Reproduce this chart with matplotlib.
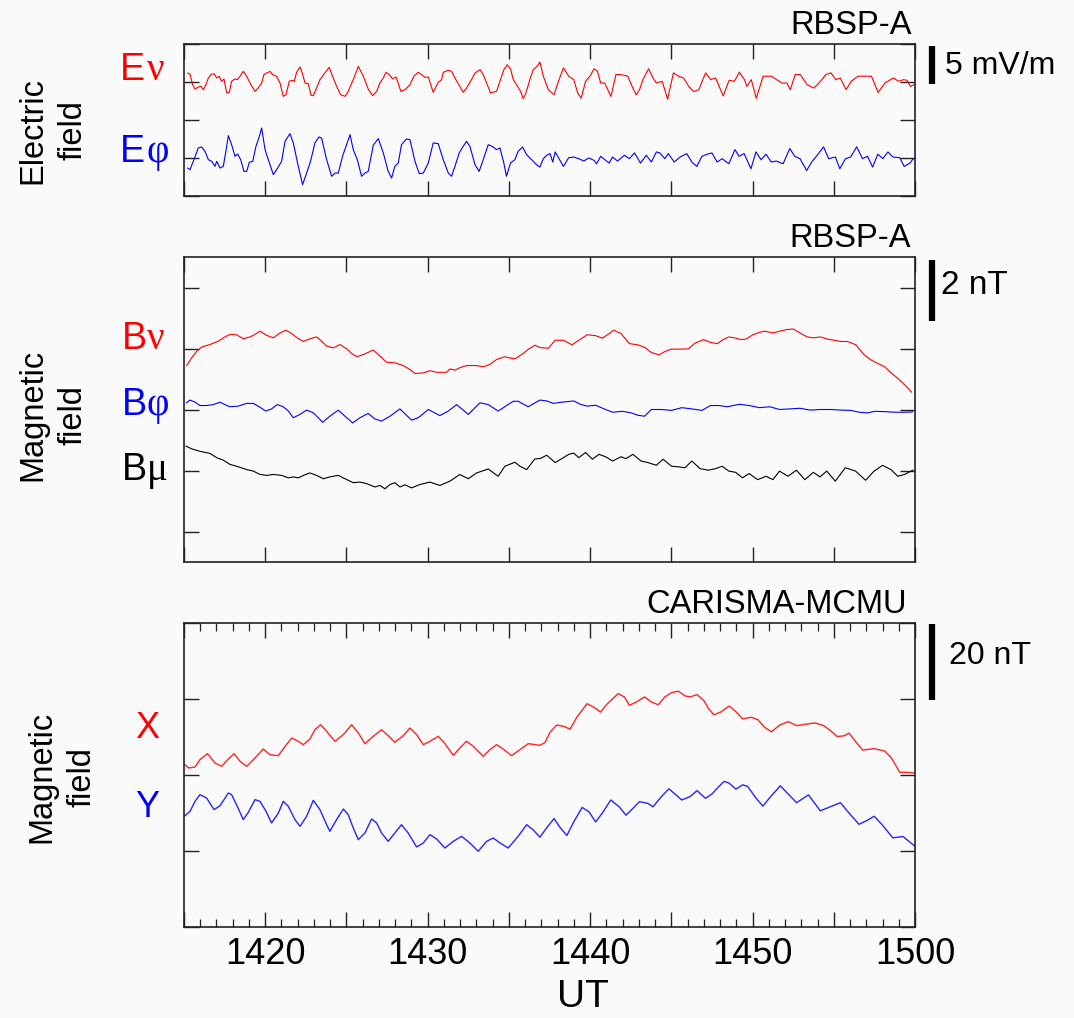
import matplotlib
matplotlib.use("Agg")
import matplotlib.pyplot as plt
import matplotlib.transforms as mtransforms

# ---------------- data (time in minutes after 14:15 UT) ----------------
tick_minutes = [5, 15, 25, 35, 45]
tick_labels = ["1420", "1430", "1440", "1450", "1500"]

# Electric field, RBSP-A (mV/m, deviation from trace baseline)
ev_t = [0.23,0.37,0.53,0.68,0.88,1.05,1.19,1.35,1.50,1.70,1.87,2.01,2.17,2.32,2.46,2.63,2.79,2.93,3.14,3.28,3.45,3.65,3.86,4.06,4.37,4.57,4.78,4.92,5.09,5.29,5.46,5.70,5.91,6.11,6.28,6.48,6.63,6.79,6.93,7.14,7.28,7.45,7.65,7.82,7.96,8.16,8.37,8.62,8.94,9.19,9.44,9.64,9.91,10.11,10.42,10.73,11.04,11.34,11.61,11.86,12.06,12.27,12.43,12.64,12.84,13.05,13.35,13.60,13.91,14.15,14.42,14.63,14.83,15.04,15.34,15.65,15.86,15.96,16.27,16.47,16.68,16.98,17.19,17.39,17.70,17.91,18.22,18.42,18.63,18.87,19.04,19.24,19.45,19.69,19.90,20.10,20.27,20.47,20.72,20.88,21.05,21.29,21.50,21.74,21.91,
        22.12,22.43,22.78,23.05,23.36,23.68,23.99,24.24,24.45,24.72,24.99,25.24,25.45,25.65,25.90,26.28,26.59,26.90,27.32,27.63,27.84,28.04,28.25,28.60,28.87,29.08,29.44,29.77,30.13,30.44,30.75,31.07,31.38,31.69,32.11,32.42,32.73,32.90,33.19,33.56,33.88,34.19,34.50,34.65,34.92,35.23,35.65,36.17,36.48,36.80,37.11,37.32,37.63,37.94,38.36,38.78,39.09,39.51,39.82,40.13,40.40,40.76,41.07,41.49,41.90,42.32,42.73,43.15,43.67,43.99,44.30,44.51,44.72,44.93]
ev_v = [1.18,1.05,-0.35,-0.92,-0.66,-0.57,-1.01,-0.35,0.53,1.05,1.05,0.53,0.75,0.09,0.40,-1.45,-1.36,0.09,0.40,0.31,0.75,1.40,0.75,-0.13,-1.23,-0.79,-0.13,0.97,1.18,1.40,0.97,0.75,-0.13,-1.89,-1.67,0.09,0.22,0.09,1.27,1.98,1.18,-0.13,-0.22,-1.76,-1.80,-0.79,0.31,1.05,1.93,0.53,-0.79,-1.67,-1.89,-1.23,0.31,2.06,0.75,-0.92,-1.80,-1.23,-0.13,0.53,1.27,0.97,0.40,0.66,-1.23,-1.01,-0.35,0.75,1.27,0.97,0.61,0.66,-1.36,-0.04,0.31,1.27,1.54,1.40,0.53,-0.57,-1.36,-0.79,0.31,1.18,1.62,0.97,-0.13,-1.45,-1.32,-1.23,0.09,1.62,2.28,1.71,0.31,-0.35,-1.23,-2.19,-1.45,0.31,1.62,2.06,2.63,
        0.76,-1.02,-1.69,0.09,1.87,0.76,0.31,-1.47,-2.14,0.09,0.76,1.74,1.42,-0.13,-0.13,-1.91,0.98,0.98,0.76,-0.80,-1.69,-1.02,0.31,1.74,0.53,-0.13,0.09,-2.27,1.20,0.76,0.53,-0.58,-1.25,-1.02,1.20,0.31,0.53,-0.36,-1.82,0.22,0.09,1.29,0.31,-0.58,0.31,-2.14,0.76,0.76,0.31,-0.13,-0.13,-1.02,0.98,0.98,-0.36,-0.80,-0.13,0.98,1.20,0.31,0.53,-1.02,0.09,0.76,0.76,0.76,-1.38,-0.13,0.53,0.09,0.31,0.22,-0.58,-0.36]

ephi_t = [0.23,0.37,0.57,0.88,1.09,1.29,1.50,1.70,1.91,2.01,2.22,2.42,2.58,2.73,2.93,3.14,3.30,3.49,3.69,3.86,4.02,4.23,4.43,4.64,4.78,4.99,5.19,5.50,5.70,6.01,6.22,6.52,6.73,6.99,7.30,7.55,7.79,8.06,8.31,8.47,8.78,9.09,9.29,9.50,9.76,9.97,10.22,10.42,10.67,10.93,11.14,11.34,11.65,11.96,12.27,12.57,12.78,12.98,13.19,13.39,13.70,13.91,14.22,14.48,14.73,15.04,15.34,15.65,15.96,16.27,16.47,16.68,16.94,17.19,17.39,17.60,17.91,18.17,18.42,18.73,19.04,19.24,19.45,19.69,19.85,20.10,20.37,20.57,20.84,21.09,21.40,21.70,
          21.91,22.12,22.33,22.53,22.70,22.85,23.05,23.36,23.68,23.99,24.30,24.61,24.92,25.24,25.40,25.65,25.96,26.17,26.38,26.69,27.11,27.42,27.73,28.10,28.46,28.77,29.08,29.29,29.60,29.81,30.18,30.54,30.95,31.26,31.57,31.88,32.19,32.50,32.82,33.13,33.54,33.92,34.17,34.48,34.90,35.21,35.52,35.83,36.15,36.46,36.88,37.29,37.60,37.92,38.33,38.64,39.06,39.37,39.68,40.10,40.37,40.72,41.04,41.41,41.77,42.08,42.39,42.71,43.02,43.33,43.64,44.06,44.33,44.69,44.89]
ephi_v = [-1.32,-1.54,-0.44,1.32,1.45,0.88,-0.22,-0.44,-1.10,-0.44,-1.32,-1.10,0.88,2.94,1.76,0.22,0.53,-0.22,-1.76,-1.76,-0.57,-0.44,1.54,2.85,3.95,1.10,-0.22,-2.19,-1.54,-0.44,2.19,3.20,1.98,-0.66,-3.51,-1.98,-0.44,1.98,2.77,2.63,-0.22,-2.41,-1.98,-1.98,0.22,1.54,3.07,1.10,-0.22,-2.41,-1.98,-1.76,1.67,2.55,0.66,-1.76,-2.63,-1.10,-0.66,1.76,2.50,2.41,-0.44,-2.06,-1.98,-0.66,1.98,1.89,-0.22,-1.98,-2.41,-1.10,0.66,1.54,2.19,1.54,-0.88,-1.76,-0.22,1.76,1.45,1.10,1.32,-0.66,-2.41,-0.66,-0.22,0.88,1.45,0.44,-0.22,-0.88,
          -1.20,-0.09,0.36,0.58,-0.53,0.80,0.04,-1.11,0.04,0.13,-0.09,-0.40,0.00,-0.31,-0.76,0.22,-0.31,-0.67,0.13,-0.40,0.36,-0.09,0.67,-0.67,0.36,-0.53,0.80,0.67,-0.09,0.58,-0.53,0.13,0.58,-0.53,-1.11,0.22,0.49,0.67,-0.53,-0.09,-0.76,1.11,0.22,0.58,-1.42,0.80,-0.22,0.49,-0.53,-0.40,-0.76,1.25,0.22,-0.09,-1.65,-0.53,0.58,1.47,-0.09,0.13,-1.42,-0.09,0.13,1.47,-0.09,0.22,-1.20,0.49,-0.09,0.80,0.13,0.04,-1.11,-0.67,-0.09]

# Magnetic field, RBSP-A (nT, deviation from trace baseline)
bnu_t = [0.16,0.47,0.78,1.09,1.60,2.11,2.52,2.83,3.24,3.65,4.06,4.37,4.68,5.09,5.50,5.91,6.28,6.63,7.04,7.35,7.75,8.16,8.47,8.78,9.19,9.60,10.01,10.32,10.63,11.04,11.65,12.06,12.47,12.98,13.50,13.91,14.22,14.73,15.14,15.55,16.16,16.37,16.68,16.98,17.39,18.01,18.42,18.83,19.24,19.75,20.06,20.37,20.78,21.19,21.60,21.91,
         22.43,22.85,23.36,23.88,24.30,24.82,25.34,25.75,26.07,26.44,26.90,27.42,27.94,28.35,28.77,29.23,29.60,30.01,30.64,31.05,31.47,31.99,32.41,32.83,33.24,33.56,33.98,34.29,34.60,35.02,35.43,35.74,36.26,36.68,37.10,37.51,37.93,38.35,38.76,39.18,39.59,40.01,40.43,40.84,41.36,41.88,42.30,42.71,43.13,43.54,43.96,44.38,44.79]
bnu_v = [-0.56,-0.31,-0.09,0.05,0.13,0.24,0.38,0.46,0.45,0.32,0.38,0.46,0.57,0.43,0.35,0.51,0.60,0.49,0.32,0.23,0.32,0.38,0.24,0.08,0.02,0.13,-0.01,-0.16,-0.27,-0.20,-0.05,-0.25,-0.45,-0.47,-0.56,-0.69,-0.82,-0.80,-0.73,-0.78,-0.78,-0.67,-0.71,-0.63,-0.56,-0.56,-0.60,-0.52,-0.36,-0.27,-0.31,-0.34,-0.20,-0.03,0.11,0.03,
         0.01,0.27,0.27,0.12,0.27,0.45,0.42,0.34,0.45,0.60,0.49,0.16,0.12,0.04,-0.13,-0.21,-0.10,-0.02,-0.02,-0.01,0.18,0.29,0.20,0.16,0.31,0.38,0.34,0.29,0.31,0.45,0.53,0.57,0.51,0.57,0.62,0.64,0.51,0.38,0.35,0.38,0.31,0.27,0.23,0.23,0.12,-0.21,-0.38,-0.49,-0.60,-0.80,-0.99,-1.20,-1.43]

bphi_t = [0.16,0.37,0.68,0.98,1.39,1.80,2.22,2.52,2.83,3.34,3.86,4.27,4.57,5.03,5.39,5.74,6.11,6.42,6.73,7.14,7.55,7.96,8.27,8.53,8.98,9.50,9.91,10.38,10.83,11.34,11.75,12.16,12.68,13.29,14.01,14.42,15.04,15.75,16.27,16.78,17.50,18.22,18.73,19.34,20.27,20.57,21.19,
          21.91,22.33,22.74,23.26,23.99,24.40,24.82,25.34,25.86,26.38,27.00,27.52,27.94,28.35,28.77,29.39,30.01,30.64,31.26,31.88,32.41,32.93,33.45,34.17,34.80,35.43,36.05,36.68,37.30,37.92,38.55,39.17,39.80,40.43,41.05,41.57,42.09,42.50,43.13,43.75,44.38,44.85]
bphi_v = [0.22,0.31,0.24,0.13,0.13,0.16,0.24,0.16,0.09,0.11,0.20,0.20,0.11,-0.05,0.02,0.16,0.09,-0.05,-0.27,-0.16,-0.02,-0.11,-0.27,-0.42,-0.22,-0.02,-0.22,-0.44,-0.27,-0.13,-0.31,-0.38,-0.22,0.02,-0.35,-0.27,0.00,-0.20,-0.05,0.16,-0.16,0.22,0.16,-0.05,0.27,0.27,0.09,
          0.31,0.28,0.20,0.24,0.28,0.17,0.11,0.14,0.02,-0.09,-0.06,-0.11,-0.19,-0.22,0.00,0.00,-0.03,0.06,0.02,-0.03,0.13,0.13,0.09,0.17,0.13,0.06,0.09,0.00,0.02,0.04,-0.02,0.00,0.00,-0.02,-0.03,-0.09,-0.11,-0.06,-0.07,-0.09,-0.09,-0.08]

bmu_t = [0.12,0.47,0.98,1.60,2.01,2.42,2.83,3.24,3.86,4.27,4.68,5.09,5.50,6.01,6.42,6.73,7.04,7.35,7.75,8.16,8.58,8.98,9.50,9.91,10.42,10.83,11.24,11.75,12.06,12.37,12.68,12.98,13.29,13.60,14.01,14.52,15.14,15.75,16.37,16.98,17.50,18.01,18.73,19.34,19.75,20.37,20.68,21.09,21.60,
         21.91,22.33,22.85,23.36,23.68,23.99,24.30,24.72,25.14,25.55,25.96,26.38,26.90,27.21,27.63,28.14,28.56,29.08,29.49,30.01,30.43,30.84,31.26,31.77,32.29,32.71,33.13,33.54,33.96,34.38,34.79,35.31,35.83,36.25,36.66,37.18,37.70,38.22,38.74,39.15,39.57,40.09,40.71,41.34,41.96,42.48,43.00,43.52,43.94,44.35,44.87]
bmu_v = [0.80,0.71,0.63,0.56,0.42,0.34,0.20,0.14,0.03,-0.02,-0.13,-0.16,-0.13,-0.16,-0.24,-0.21,-0.24,-0.16,-0.08,-0.16,-0.27,-0.21,-0.16,-0.27,-0.40,-0.38,-0.43,-0.54,-0.49,-0.60,-0.46,-0.40,-0.54,-0.47,-0.57,-0.46,-0.38,-0.49,-0.35,-0.13,-0.27,-0.08,0.05,-0.19,0.14,0.27,0.14,0.03,0.38,
         0.39,0.50,0.26,0.42,0.53,0.57,0.42,0.59,0.37,0.53,0.45,0.31,0.45,0.39,0.53,0.31,0.26,0.17,0.37,0.14,0.12,0.09,0.31,0.06,0.01,0.06,0.14,-0.02,-0.06,-0.24,-0.10,-0.30,-0.19,-0.30,-0.02,-0.19,0.01,-0.30,-0.06,-0.21,-0.02,-0.35,0.09,-0.02,-0.32,-0.02,0.17,0.03,-0.19,-0.13,0.01]

# Ground magnetometer CARISMA-MCMU (nT)
gx_t = [0.06,0.27,0.68,0.98,1.44,1.91,2.32,2.73,3.08,3.45,3.86,4.27,4.88,5.29,5.81,6.22,6.63,7.04,7.34,7.75,8.06,8.41,8.78,9.29,9.81,10.32,10.73,11.14,11.65,12.16,12.57,12.98,13.50,13.91,14.32,14.73,15.14,15.65,16.06,16.58,16.98,17.39,17.81,18.42,18.83,19.24,19.65,20.16,20.68,21.19,
        21.91,22.22,22.53,22.94,23.36,23.77,24.18,24.81,25.22,25.64,26.06,26.73,27.11,27.42,27.84,28.36,28.77,29.19,29.60,30.02,30.43,30.85,31.16,31.58,31.99,32.30,32.62,33.03,33.56,33.97,34.39,34.91,35.32,35.74,36.16,36.68,37.20,37.72,38.34,38.86,39.38,39.80,40.21,40.63,40.94,41.36,41.77,42.50,43.13,43.54,44.06,44.48,44.95]
gx_v = [2.72,1.84,2.10,4.03,5.61,3.16,2.28,4.21,5.61,3.60,2.28,4.03,6.84,5.35,5.09,7.54,9.73,8.86,7.98,9.47,11.93,13.24,11.49,8.86,10.61,13.24,11.05,8.24,10.17,11.93,10.35,8.59,10.35,12.37,10.61,7.98,8.86,10.17,8.24,5.17,7.10,8.86,7.54,4.91,6.67,7.98,6.84,5.09,6.67,8.24,
        7.82,8.53,11.20,13.16,12.80,12.09,15.20,18.76,17.87,16.54,18.76,21.42,20.54,18.31,19.20,20.54,19.20,18.49,20.54,21.69,22.05,20.80,20.54,21.16,19.65,17.42,15.82,16.54,18.14,16.71,14.76,15.20,14.58,12.53,11.38,13.16,14.05,12.98,13.42,13.69,12.98,11.65,10.13,10.31,11.02,8.71,6.58,6.93,6.31,4.53,0.71,0.71,0.53]

gy_t = [0.06,0.37,0.68,0.98,1.39,1.85,2.22,2.73,2.93,3.28,3.65,3.96,4.37,4.68,5.05,5.39,5.81,6.11,6.42,6.83,7.14,7.55,7.96,8.37,8.78,8.98,9.39,9.81,10.11,10.42,10.73,11.14,11.55,11.86,12.16,12.57,12.98,13.39,13.80,14.32,14.73,15.14,15.55,16.06,16.58,17.09,17.60,18.11,18.63,19.04,19.45,19.96,20.57,21.09,21.50,
        21.91,22.33,22.78,23.16,23.57,23.99,24.51,24.93,25.34,25.76,26.27,26.79,27.21,27.63,28.04,28.56,28.87,29.39,29.85,30.22,30.64,31.16,31.58,32.10,32.51,32.93,33.25,33.56,33.97,34.39,34.70,35.22,35.63,36.15,36.71,37.19,37.71,38.44,39.17,39.89,40.41,40.93,41.55,42.07,42.49,43.01,43.63,44.26,44.95]
gy_v = [-10.70,-9.56,-6.93,-5.17,-6.05,-9.12,-8.07,-4.74,-5.17,-8.24,-11.75,-9.82,-6.49,-6.93,-9.56,-12.63,-10.00,-6.93,-8.24,-11.75,-13.51,-10.87,-6.67,-9.12,-13.07,-14.82,-11.75,-8.95,-10.44,-13.94,-17.01,-15.26,-11.58,-12.63,-15.26,-17.45,-15.26,-13.07,-15.26,-18.94,-17.89,-15.70,-16.84,-19.21,-17.45,-16.14,-17.89,-20.08,-17.45,-16.58,-17.89,-19.21,-16.14,-13.07,-14.47,
        -16.36,-13.87,-11.47,-13.87,-15.91,-12.36,-8.53,-9.69,-12.36,-9.96,-6.58,-8.36,-10.58,-8.80,-7.02,-7.47,-8.36,-5.69,-3.64,-4.98,-6.58,-5.69,-4.09,-6.13,-4.98,-3.02,-1.69,-2.13,-3.73,-2.58,-3.02,-6.13,-8.18,-5.51,-2.84,-4.98,-7.29,-5.24,-9.42,-8.18,-7.29,-9.96,-12.98,-11.91,-10.85,-13.25,-16.54,-16.18,-18.58]

# ---------------- figure ----------------
W, H = 1074, 1018
plt.rcParams['font.family'] = ['Liberation Sans', 'DejaVu Sans']
BG = '#fafafa'
fig = plt.figure(figsize=(W / 100, H / 100), dpi=100, facecolor=BG)

RED, BLUE, BLACK = '#ff0000', '#0000ff', '#000000'


def fx(x):
    return x / W


def fy(y):
    return 1 - y / H


def make_axes(top, bottom, ylim, yticks, minor):
    ax = fig.add_axes([fx(184), fy(bottom), 731 / W, (bottom - top) / H])
    ax.set_facecolor('none')
    ax.set_xlim(0, 45)
    ax.set_ylim(*ylim)
    ax.set_xticks(list(range(0, 46, 5)))
    if minor:
        ax.set_xticks(list(range(0, 46, 1)), minor=True)
    ax.set_yticks(yticks)
    ax.tick_params(which='both', direction='in', top=True, right=True,
                   labelbottom=False, labelleft=False, color='#222222')
    ax.tick_params(which='major', length=10.5, width=1.0)
    ax.tick_params(which='minor', length=5.5, width=0.9)
    for s in ax.spines.values():
        s.set_linewidth(1.2)
        s.set_color('#222222')
    return ax


ax1 = make_axes(44, 196, (-10, 10), [-10, -5, 0, 5, 10], False)
ax2 = make_axes(257, 562, (-5, 5), [-4, -2, 0, 2, 4], False)
ax3 = make_axes(623, 927, (-40, 40), [-40, -20, 0, 20, 40], True)

# traces
ax1.plot(ev_t, [v + 5 for v in ev_v], color=RED, lw=0.8)
ax1.plot(ephi_t, [v - 5 for v in ephi_v], color=BLUE, lw=0.8)
ax2.plot(bnu_t, [v + 2 for v in bnu_v], color=RED, lw=0.8)
ax2.plot(bphi_t, bphi_v, color=BLUE, lw=0.8)
ax2.plot(bmu_t, [v - 2 for v in bmu_v], color=BLACK, lw=0.8)
ax3.plot(gx_t, gx_v, color=RED, lw=1.0, alpha=0.85)
ax3.plot(gy_t, gy_v, color=BLUE, lw=1.0, alpha=0.85)

# bottom x tick labels
lab = dict(zip(tick_minutes, tick_labels))
ax3.set_xticklabels([lab.get(m, '') for m in range(0, 46, 5)])
ax3.tick_params(axis='x', which='major', labelbottom=True, labelsize=26, pad=7)
fig.text(fx(583), fy(997), 'UT', ha='center', va='center', fontsize=28)

# titles
for ax, title, dx in [(ax1, 'RBSP-A', -2), (ax2, 'RBSP-A', -3), (ax3, 'CARISMA-MCMU', -6)]:
    ax.annotate(title, xy=(1, 1), xycoords='axes fraction', xytext=(dx, 7.5),
                textcoords='offset points', ha='right', va='baseline', fontsize=23.5)

# scale bars
for ax, (y0, y1) in [(ax1, (4.7, 9.7)), (ax2, (2.9, 4.9)), (ax3, (19.7, 39.7))]:
    tr = mtransforms.blended_transform_factory(ax.transAxes, ax.transData)
    ax.plot([1.0235, 1.0235], [y0, y1], transform=tr, clip_on=False,
            color='black', lw=4.5, solid_capstyle='butt')
fig.text(fx(945), fy(66), '5 mV/m', va='center', ha='left', fontsize=23)
fig.text(fx(941), fy(285), '2 nT', va='center', ha='left', fontsize=24)
fig.text(fx(949), fy(656), '20 nT', va='center', ha='left', fontsize=23)

# panel labels
fig.text(fx(53), fy(130), 'Electric\nfield', rotation=90, ha='center', va='center',
         multialignment='center', fontsize=23.5, linespacing=1.35)
fig.text(fx(53), fy(415), 'Magnetic\nfield', rotation=90, ha='center', va='center',
         multialignment='center', fontsize=23.5, linespacing=1.35)
fig.text(fx(62), fy(777), 'Magnetic\nfield', rotation=90, ha='center', va='center',
         multialignment='center', fontsize=23.5, linespacing=1.35)

# component labels
GREEK = ['Liberation Serif', 'DejaVu Serif']
for base, greek, col, yb in [('E', 'ν', RED, 80), ('E', 'φ', BLUE, 162)]:
    fig.text(fx(120), fy(yb), base, color=col, fontsize=27, va='baseline', ha='left')
    fig.text(fx(147), fy(yb), greek, color=col, fontsize=28, va='baseline', ha='left', family=GREEK)
for base, greek, col, yb in [('B', 'ν', RED, 349), ('B', 'φ', BLUE, 415), ('B', 'μ', BLACK, 480)]:
    fig.text(fx(122), fy(yb), base, color=col, fontsize=27, va='baseline', ha='left')
    fig.text(fx(147), fy(yb), greek, color=col, fontsize=28, va='baseline', ha='left', family=GREEK)
fig.text(fx(147), fy(738), 'X', color=RED, fontsize=26, va='baseline', ha='center')
fig.text(fx(147), fy(817), 'Y', color=BLUE, fontsize=26, va='baseline', ha='center')

fig.savefig('out.png', dpi=100, facecolor=BG)
